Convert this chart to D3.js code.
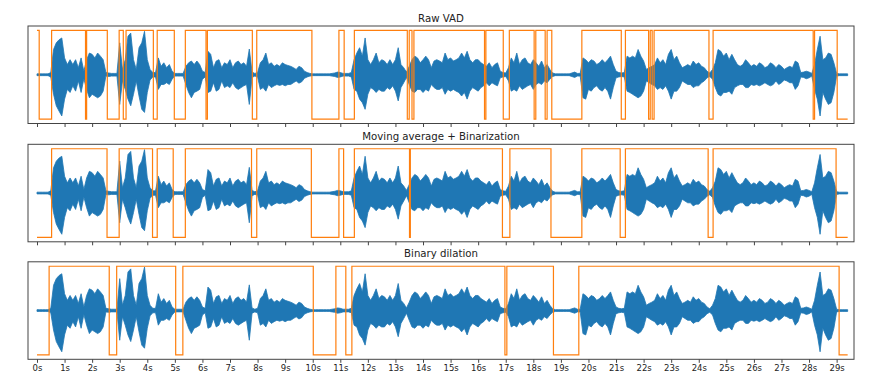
<!DOCTYPE html>
<html>
<head>
<meta charset="UTF-8">
<style>
    body { margin: 0; background: #fff; }
    svg text { font-family: "DejaVu Sans", sans-serif; fill: #222; }
    .title { font-size: 10.2px; }
    .tick text { font-size: 8.5px; }
    .tick line { stroke: #444; }
</style>
<script src="https://cdn.jsdelivr.net/npm/d3@7"></script>
<title>VAD</title>
</head>
<body>
<svg id="chart" width="874" height="386"></svg>
<script>
    // tick positions and labels (seconds)
    var seconds = d3.range(0, 30);
    var tickLabels = seconds.map(function(s) { return s + "s"; });

    // audio envelope, one value every 0.1 s (upper and lower side)
    var sampleStep = 0.1;
    var waveUp = [
        0.02,0.02,0.02,0.02,0.02,0.05,0.57,0.72,0.79,0.83,
        0.38,0.23,0.34,0.23,0.34,0.16,0.38,0.08,0.34,0.49,
        0.46,0.38,0.49,0.42,0.34,0.05,0.04,0.03,0.03,0.03,
        0.72,0.12,0.34,0.87,0.94,0.34,0.12,0.61,0.72,0.98,
        0.34,0.12,0.05,0.05,0.38,0.19,0.27,0.16,0.23,0.08,
        0.03,0.03,0.03,0.03,0.19,0.27,0.31,0.23,0.31,0.23,
        0.08,0.05,0.53,0.46,0.16,0.31,0.34,0.16,0.27,0.23,
        0.34,0.16,0.27,0.31,0.23,0.27,0.19,0.58,0.06,0.03,
        0.05,0.27,0.34,0.49,0.23,0.27,0.19,0.23,0.19,0.27,
        0.23,0.21,0.19,0.16,0.12,0.19,0.16,0.08,0.05,0.03,
        0.02,0.02,0.02,0.02,0.02,0.02,0.02,0.03,0.04,0.06,
        0.05,0.03,0.03,0.03,0.05,0.34,0.49,0.61,0.42,0.83,
        0.34,0.23,0.34,0.49,0.27,0.34,0.31,0.23,0.34,0.23,
        0.34,0.61,0.23,0.16,0.06,0.19,0.34,0.42,0.38,0.27,
        0.34,0.42,0.34,0.16,0.31,0.34,0.31,0.27,0.49,0.34,
        0.38,0.31,0.34,0.38,0.49,0.38,0.53,0.34,0.27,0.34,
        0.34,0.27,0.23,0.19,0.27,0.16,0.23,0.27,0.08,0.05,
        0.04,0.16,0.38,0.27,0.49,0.23,0.34,0.38,0.27,0.23,
        0.34,0.27,0.19,0.31,0.16,0.23,0.12,0.04,0.02,0.02,
        0.02,0.02,0.02,0.02,0.04,0.06,0.03,0.03,0.38,0.34,
        0.27,0.34,0.31,0.23,0.27,0.34,0.27,0.34,0.42,0.23,
        0.08,0.05,0.04,0.05,0.42,0.38,0.42,0.38,0.57,0.42,
        0.31,0.12,0.16,0.19,0.23,0.38,0.27,0.34,0.23,0.46,
        0.57,0.34,0.42,0.27,0.16,0.19,0.23,0.19,0.31,0.23,
        0.27,0.19,0.16,0.08,0.04,0.12,0.27,0.57,0.53,0.42,
        0.49,0.34,0.46,0.34,0.23,0.19,0.23,0.34,0.27,0.19,
        0.23,0.19,0.27,0.23,0.16,0.19,0.27,0.23,0.16,0.23,
        0.19,0.12,0.16,0.19,0.16,0.31,0.27,0.05,0.06,0.08,
        0.06,0.03,0.23,0.57,0.87,0.34,0.38,0.49,0.46,0.27,
        0.03,0.02,0.02,0.02,0.02
    ];
    var waveDown = [
        0.02,0.02,0.02,0.02,0.02,0.05,0.44,0.70,0.82,0.93,
        0.55,0.33,0.40,0.25,0.37,0.14,0.40,0.09,0.33,0.52,
        0.44,0.48,0.52,0.48,0.37,0.03,0.04,0.03,0.03,0.03,
        0.67,0.14,0.33,0.55,0.70,0.44,0.14,0.48,0.78,0.85,
        0.40,0.12,0.05,0.05,0.33,0.22,0.22,0.18,0.22,0.10,
        0.03,0.03,0.03,0.03,0.22,0.40,0.52,0.40,0.37,0.33,
        0.10,0.05,0.40,0.37,0.18,0.37,0.33,0.14,0.29,0.25,
        0.29,0.18,0.29,0.33,0.29,0.25,0.22,0.67,0.06,0.03,
        0.05,0.33,0.29,0.37,0.22,0.29,0.25,0.22,0.24,0.22,
        0.25,0.22,0.22,0.18,0.14,0.19,0.16,0.08,0.05,0.03,
        0.02,0.02,0.02,0.02,0.02,0.02,0.02,0.03,0.04,0.06,
        0.05,0.03,0.03,0.03,0.05,0.33,0.37,0.55,0.63,0.78,
        0.44,0.29,0.33,0.40,0.33,0.37,0.37,0.29,0.33,0.25,
        0.37,0.59,0.29,0.18,0.06,0.22,0.37,0.40,0.33,0.33,
        0.40,0.33,0.37,0.22,0.29,0.33,0.33,0.29,0.44,0.33,
        0.37,0.33,0.37,0.40,0.48,0.40,0.55,0.37,0.29,0.33,
        0.37,0.29,0.25,0.18,0.25,0.18,0.22,0.25,0.07,0.05,
        0.04,0.14,0.37,0.33,0.37,0.25,0.33,0.29,0.25,0.22,
        0.33,0.22,0.18,0.22,0.14,0.18,0.10,0.04,0.02,0.02,
        0.02,0.02,0.02,0.02,0.04,0.06,0.03,0.03,0.52,0.55,
        0.33,0.37,0.29,0.25,0.33,0.37,0.29,0.37,0.55,0.29,
        0.07,0.05,0.04,0.05,0.37,0.40,0.44,0.48,0.52,0.48,
        0.37,0.14,0.18,0.22,0.25,0.33,0.29,0.33,0.25,0.37,
        0.55,0.37,0.37,0.29,0.14,0.18,0.22,0.22,0.29,0.25,
        0.25,0.18,0.14,0.07,0.04,0.10,0.29,0.44,0.48,0.40,
        0.40,0.37,0.44,0.29,0.25,0.22,0.22,0.29,0.29,0.22,
        0.24,0.22,0.25,0.22,0.18,0.22,0.25,0.22,0.14,0.22,
        0.18,0.12,0.14,0.18,0.18,0.33,0.25,0.05,0.06,0.09,
        0.07,0.03,0.33,0.55,0.93,0.40,0.55,0.67,0.63,0.40,
        0.03,0.02,0.02,0.02,0.02
    ];
    var audioEnd = 29.4;

    // speech segments [start, end] in seconds
    var rawVad = [
        [0, 0.08], [0.53, 1.76], [1.80, 2.55], [2.98, 3.13], [3.23, 4.22],
        [4.36, 4.98], [5.38, 6.13], [6.18, 7.81], [7.97, 9.97], [10.95, 11.14],
        [11.51, 13.43], [13.50, 13.60], [13.67, 16.23], [16.28, 16.91], [17.13, 18.03],
        [18.09, 18.43], [18.50, 18.67], [19.76, 21.19], [21.34, 22.18], [22.24, 22.31],
        [22.38, 24.37], [24.52, 28.15], [28.20, 29.02]
    ];
    var smoothVad = [
        [0.53, 2.54], [2.98, 4.19], [4.36, 4.94], [5.38, 7.78], [7.97, 9.95],
        [10.95, 11.12], [11.51, 13.51], [13.54, 16.88], [17.15, 18.64], [19.76, 21.15],
        [21.34, 24.34], [24.52, 28.98]
    ];
    var dilatedVad = [
        [0.44, 2.62], [2.89, 5.03], [5.29, 10.02], [10.84, 11.20], [11.42, 16.97],
        [17.04, 18.73], [19.65, 29.09]
    ];

    var titles = ["Raw VAD", "Moving average + Binarization", "Binary dilation"];
    var vads = [rawVad, smoothVad, dilatedVad];

    var svg = d3.select("#chart");
    var left = 28, right = 854, panelH = 97.5;
    var tops = [26, 144.3, 261.8];

    var x = d3.scaleLinear().domain([-0.326, 29.63]).range([left, right]);

    var wave = waveUp.map(function(u, i) {
        return { t: i * sampleStep, up: u, down: waveDown[i] };
    });

    function stepPoints(segs) {
        var pts = [];
        if (segs[0][0] > 0) pts.push([0, 0]);
        segs.forEach(function(s) {
            pts.push([s[0], 1]);
            pts.push([s[1], 0]);
        });
        pts.push([audioEnd, 0]);
        return pts;
    }

    titles.forEach(function(title, k) {
        var top = tops[k];
        var y = d3.scaleLinear().domain([-1.1, 1.1]).range([top + panelH, top]);
        var g = svg.append("g");

        svg.append("text")
            .attr("class", "title")
            .attr("x", (left + right) / 2)
            .attr("y", top - 4.5)
            .attr("text-anchor", "middle")
            .text(title);

        var area = d3.area()
            .x(function(d) { return x(d.t); })
            .y0(function(d) { return y(-d.down); })
            .y1(function(d) { return y(d.up); });

        g.append("path")
            .datum(wave)
            .attr("d", area)
            .attr("fill", "#1f77b4")
            .attr("stroke", "#1f77b4")
            .attr("stroke-width", 0.8);

        var line = d3.line()
            .x(function(d) { return x(d[0]); })
            .y(function(d) { return y(d[1] * 2 - 1); })
            .curve(d3.curveStepAfter);

        g.append("path")
            .datum(stepPoints(vads[k]))
            .attr("d", line)
            .attr("fill", "none")
            .attr("stroke", "#ff7f0e")
            .attr("stroke-width", 1.2);

        var axis = d3.axisBottom(x)
            .tickValues(seconds)
            .tickSize(3.5)
            .tickPadding(2.5)
            .tickFormat(function(d, i) { return k === 2 ? tickLabels[i] : ""; });

        var ax = svg.append("g")
            .attr("transform", "translate(0," + (top + panelH) + ")")
            .call(axis);
        ax.select(".domain").remove();

        svg.append("rect")
            .attr("x", left)
            .attr("y", top)
            .attr("width", right - left)
            .attr("height", panelH)
            .attr("fill", "none")
            .attr("stroke", "#444")
            .attr("stroke-width", 1);
    });
</script>
</body>
</html>
